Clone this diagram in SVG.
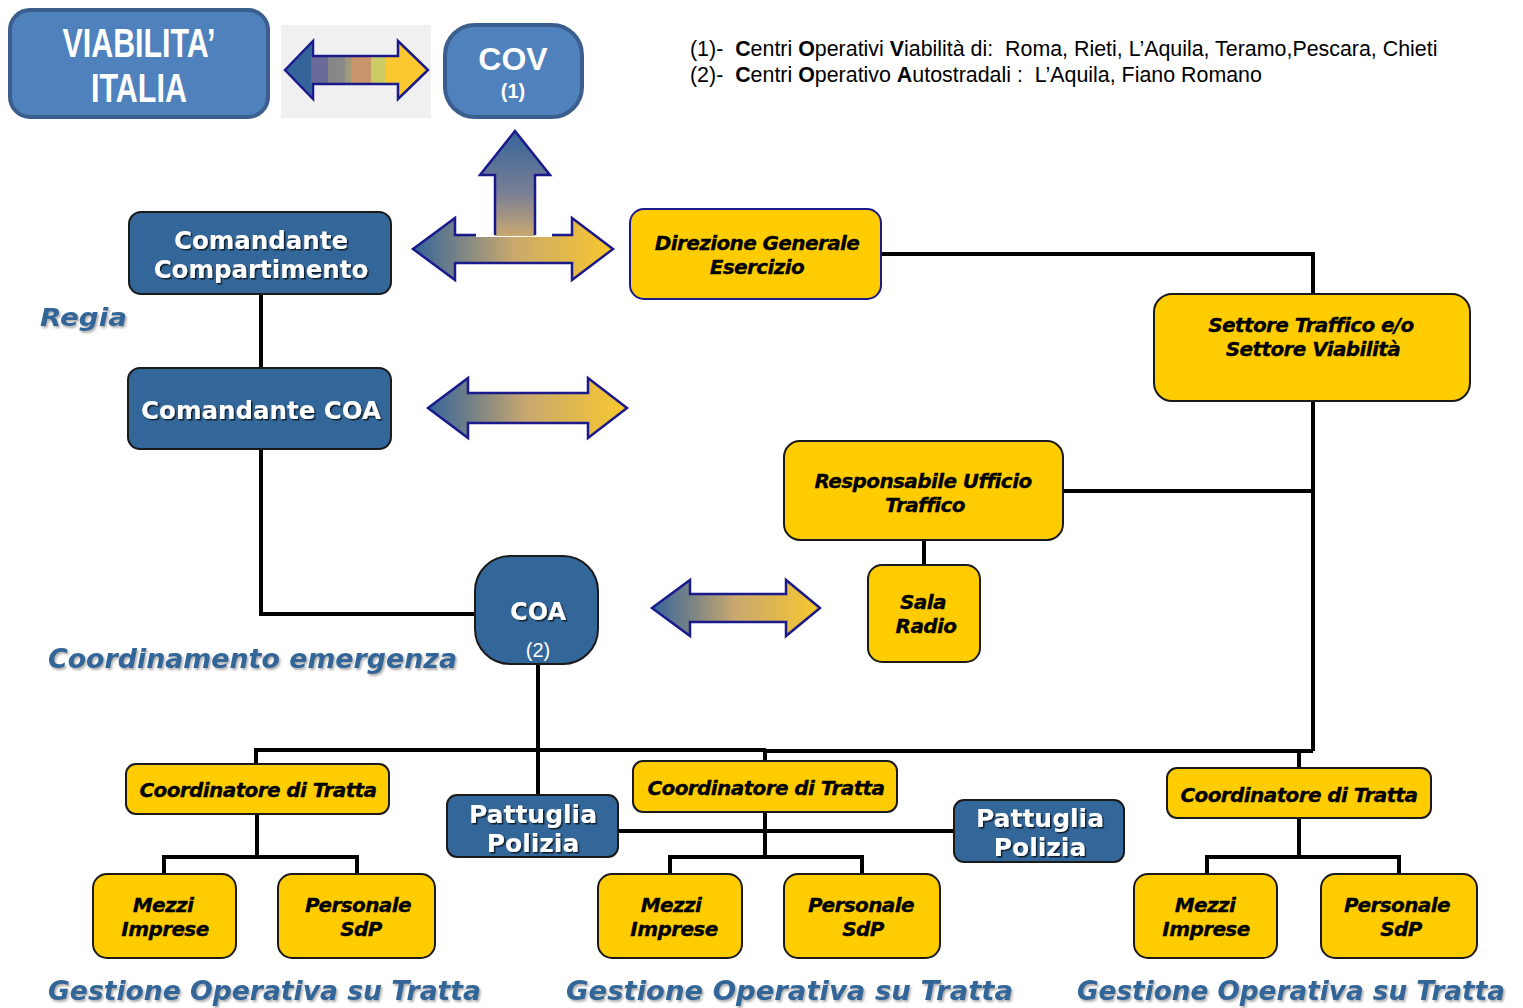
<svg xmlns="http://www.w3.org/2000/svg" width="1523" height="1008" viewBox="0 0 1523 1008">
<defs>
<style>
.vi{fill:#4f81bd;stroke:#3a5f8f;stroke-width:4}
.bl{fill:#336699;stroke:#1a1a1a;stroke-width:2}
.ye{fill:#ffcc00;stroke:#1a1a1a;stroke-width:2}
.ln{fill:none;stroke:#000;stroke-width:4;stroke-linejoin:miter}
.arr{stroke:#1a1a8c;stroke-width:2.5;stroke-linejoin:miter}
.tw{fill:#fff;font-family:"DejaVu Sans",Verdana,sans-serif;font-weight:bold;text-anchor:middle}
.ty{fill:#000;stroke:#000;stroke-width:0.3;font-family:"DejaVu Sans",Verdana,sans-serif;font-weight:bold;font-style:italic;font-size:20px;text-anchor:middle;letter-spacing:-0.6px}
.lab{fill:#336699;font-family:"DejaVu Sans",Verdana,sans-serif;font-weight:bold;font-style:italic}
.note{fill:#000;font-family:"Liberation Sans",Arial,sans-serif;font-size:21.4px;white-space:pre}
.big{fill:#fff;font-family:"Liberation Sans",Arial,sans-serif;font-weight:bold;text-anchor:middle}
</style>
<linearGradient id="gh" x1="0" y1="0" x2="1" y2="0">
<stop offset="0" stop-color="#34649a"/>
<stop offset="0.5" stop-color="#c9a86e"/>
<stop offset="1" stop-color="#f8c82c"/>
</linearGradient>
<linearGradient id="gv" x1="0" y1="0" x2="0" y2="1">
<stop offset="0" stop-color="#34649a"/>
<stop offset="0.6" stop-color="#7b7f94"/>
<stop offset="1" stop-color="#c9a870"/>
</linearGradient>
<linearGradient id="gs" x1="0" y1="0" x2="1" y2="0">
<stop offset="0" stop-color="#34649a"/>
<stop offset="0.18" stop-color="#34649a"/>
<stop offset="0.18" stop-color="#6a6a98"/>
<stop offset="0.3" stop-color="#6a6a98"/>
<stop offset="0.3" stop-color="#858585"/>
<stop offset="0.42" stop-color="#8a8a88"/>
<stop offset="0.42" stop-color="#a09a78"/>
<stop offset="0.46" stop-color="#a09a78"/>
<stop offset="0.46" stop-color="#c8966a"/>
<stop offset="0.6" stop-color="#c8966a"/>
<stop offset="0.6" stop-color="#cccc66"/>
<stop offset="0.7" stop-color="#cccc66"/>
<stop offset="0.7" stop-color="#fbc830"/>
<stop offset="1" stop-color="#fbc830"/>
</linearGradient>
<filter id="sh" x="-10%" y="-20%" width="120%" height="150%">
<feDropShadow dx="1.5" dy="1.5" stdDeviation="0.6" flood-color="#000" flood-opacity="0.7"/>
</filter>
<filter id="lsh" x="-2%" y="-20%" width="104%" height="140%">
<feDropShadow dx="1.5" dy="2" stdDeviation="1" flood-color="#777" flood-opacity="0.6"/>
</filter>
</defs>
<rect width="1523" height="1008" fill="#fff"/>

<g id="connectors">
<path class="ln" d="M261 294 V368"/>
<path class="ln" d="M261 449 V614 H475"/>
<path class="ln" d="M881 254 H1313 V294"/>
<path class="ln" d="M1313 401 V751"/>
<path class="ln" d="M1063 491 H1313"/>
<path class="ln" d="M924 540 V565"/>
<path class="ln" d="M538 664 V795"/>
<path class="ln" d="M256 764 V750 H766"/>
<path class="ln" d="M765 761 V751 H1313"/>
<path class="ln" d="M1299 751 V768"/>
<path class="ln" d="M257 814 V856"/>
<path class="ln" d="M164 874 V857 H357 V874"/>
<path class="ln" d="M765 812 V856"/>
<path class="ln" d="M618 831 H954"/>
<path class="ln" d="M670 874 V857 H862 V874"/>
<path class="ln" d="M1299 818 V856"/>
<path class="ln" d="M1207 874 V857 H1399 V874"/>
</g>

<g id="viabilita-italia">
<rect class="vi" x="10" y="10" width="258" height="107" rx="20"/>
<text class="big" font-size="41" x="139" y="57" textLength="153" lengthAdjust="spacingAndGlyphs">VIABILITA’</text>
<text class="big" font-size="41" x="139" y="102" textLength="96" lengthAdjust="spacingAndGlyphs">ITALIA</text>
</g>

<g id="arrow-viabilita-cov">
<rect x="281" y="25" width="150" height="93" fill="#f0f0f0"/>
<path class="arr" fill="url(#gs)" d="M285 70 L313 41 L313 56 L398 56 L398 41 L428 70 L398 99 L398 84 L313 84 L313 99 Z"/>
</g>

<g id="cov">
<rect class="vi" x="445" y="25" width="137" height="92" rx="30"/>
<text class="tw" style="font-family:'Liberation Sans',sans-serif" font-size="32" x="513" y="70">COV</text>
<text class="tw" style="font-family:'Liberation Sans',sans-serif" font-size="20" x="513" y="98">(1)</text>
</g>

<g id="notes">
<text class="note" x="690" y="56">(1)-  <tspan font-weight="bold">C</tspan>entri <tspan font-weight="bold">O</tspan>perativi <tspan font-weight="bold">V</tspan>iabilità di:  Roma, Rieti, L’Aquila, Teramo,Pescara, Chieti</text>
<text class="note" x="690" y="82">(2)-  <tspan font-weight="bold">C</tspan>entri <tspan font-weight="bold">O</tspan>perativo <tspan font-weight="bold">A</tspan>utostradali :  L’Aquila, Fiano Romano</text>
</g>

<g id="arrow-regia">
<path class="arr" fill="url(#gh)" d="M413 249 L455 218 L455 235 L572 235 L572 218 L613 249 L572 280 L572 263 L455 263 L455 280 Z"/>
<rect x="476" y="231" width="76" height="6" fill="#fff"/>
<path fill="url(#gv)" d="M495 236 V175 H480 L515 131 L550 175 H535 V236 Z"/>
<path class="arr" fill="none" d="M495 235 V175 H480 L515 131 L550 175 H535 V235"/>
</g>

<g id="comandante-compartimento">
<rect class="bl" x="129" y="212" width="262" height="82" rx="12"/>
<text class="tw" font-size="24.5" x="261" y="249" filter="url(#sh)">Comandante</text>
<text class="tw" font-size="24.5" x="261" y="278" filter="url(#sh)">Compartimento</text>
</g>

<g id="direzione-generale">
<rect class="ye" style="stroke:#1a1a8c" x="630" y="209" width="251" height="90" rx="14"/>
<text class="ty" x="757" y="250">Direzione Generale</text>
<text class="ty" x="757" y="274">Esercizio</text>
</g>

<g id="regia">
<text class="lab" font-size="25" x="40" y="326" textLength="87" lengthAdjust="spacingAndGlyphs" filter="url(#lsh)">Regia</text>
</g>

<g id="comandante-coa">
<rect class="bl" x="128" y="368" width="263" height="81" rx="12"/>
<text class="tw" font-size="24.5" x="261" y="419" filter="url(#sh)">Comandante COA</text>
</g>

<g id="arrow-coa">
<path class="arr" fill="url(#gh)" d="M428 408 L468 378 L468 393 L588 393 L588 378 L627 408 L588 438 L588 423 L468 423 L468 438 Z"/>
</g>

<g id="settore-traffico">
<rect class="ye" x="1154" y="294" width="316" height="107" rx="18"/>
<text class="ty" x="1311" y="332">Settore Traffico e/o</text>
<text class="ty" x="1313" y="356">Settore Viabilità</text>
</g>

<g id="responsabile-ufficio">
<rect class="ye" x="784" y="441" width="279" height="99" rx="16"/>
<text class="ty" x="923" y="488">Responsabile Ufficio</text>
<text class="ty" x="925" y="512">Traffico</text>
</g>

<g id="sala-radio">
<rect class="ye" x="868" y="565" width="112" height="97" rx="14"/>
<text class="ty" x="923" y="609">Sala</text>
<text class="ty" x="926" y="633">Radio</text>
</g>

<g id="coa">
<rect class="bl" x="475" y="556" width="123" height="108" rx="35"/>
<text class="tw" font-size="24" x="538" y="620" filter="url(#sh)">COA</text>
<text class="tw" style="font-family:'Liberation Sans',sans-serif;font-weight:normal" font-size="20" x="538" y="657">(2)</text>
</g>

<g id="arrow-sala">
<path class="arr" fill="url(#gh)" d="M652 608 L690 580 L690 594 L786 594 L786 580 L820 608 L786 636 L786 622 L690 622 L690 636 Z"/>
</g>

<g id="coordinamento-emergenza">
<text class="lab" font-size="27" x="48" y="668" textLength="409" lengthAdjust="spacingAndGlyphs" filter="url(#lsh)">Coordinamento emergenza</text>
</g>

<g id="coordinatore-1">
<rect class="ye" x="126" y="764" width="263" height="50" rx="10"/>
<text class="ty" x="258" y="797">Coordinatore di Tratta</text>
</g>
<g id="pattuglia-1">
<rect class="bl" x="447" y="795" width="171" height="62" rx="10"/>
<text class="tw" font-size="25" x="533" y="823" filter="url(#sh)">Pattuglia</text>
<text class="tw" font-size="25" x="533" y="852" filter="url(#sh)">Polizia</text>
</g>
<g id="coordinatore-2">
<rect class="ye" x="633" y="761" width="264" height="51" rx="10"/>
<text class="ty" x="766" y="795">Coordinatore di Tratta</text>
</g>
<g id="pattuglia-2">
<rect class="bl" x="954" y="800" width="170" height="62" rx="10"/>
<text class="tw" font-size="25" x="1040" y="827" filter="url(#sh)">Pattuglia</text>
<text class="tw" font-size="25" x="1040" y="856" filter="url(#sh)">Polizia</text>
</g>
<g id="coordinatore-3">
<rect class="ye" x="1167" y="768" width="264" height="50" rx="10"/>
<text class="ty" x="1299" y="802">Coordinatore di Tratta</text>
</g>

<g id="mezzi-1">
<rect class="ye" x="93" y="874" width="143" height="84" rx="14"/>
<text class="ty" x="163" y="912">Mezzi</text>
<text class="ty" x="165" y="936">Imprese</text>
</g>
<g id="personale-1">
<rect class="ye" x="278" y="874" width="157" height="84" rx="14"/>
<text class="ty" x="358" y="912">Personale</text>
<text class="ty" x="361" y="936">SdP</text>
</g>
<g id="mezzi-2">
<rect class="ye" x="598" y="874" width="144" height="84" rx="14"/>
<text class="ty" x="671" y="912">Mezzi</text>
<text class="ty" x="674" y="936">Imprese</text>
</g>
<g id="personale-2">
<rect class="ye" x="784" y="874" width="156" height="84" rx="14"/>
<text class="ty" x="861" y="912">Personale</text>
<text class="ty" x="863" y="936">SdP</text>
</g>
<g id="mezzi-3">
<rect class="ye" x="1134" y="874" width="143" height="84" rx="14"/>
<text class="ty" x="1205" y="912">Mezzi</text>
<text class="ty" x="1206" y="936">Imprese</text>
</g>
<g id="personale-3">
<rect class="ye" x="1321" y="874" width="156" height="84" rx="14"/>
<text class="ty" x="1397" y="912">Personale</text>
<text class="ty" x="1401" y="936">SdP</text>
</g>

<g id="gestione-labels">
<text class="lab" font-size="27" x="48" y="1000" textLength="433" lengthAdjust="spacingAndGlyphs" filter="url(#lsh)">Gestione Operativa su Tratta</text>
<text class="lab" font-size="27" x="566" y="1000" textLength="447" lengthAdjust="spacingAndGlyphs" filter="url(#lsh)">Gestione Operativa su Tratta</text>
<text class="lab" font-size="27" x="1077" y="1000" textLength="428" lengthAdjust="spacingAndGlyphs" filter="url(#lsh)">Gestione Operativa su Tratta</text>
</g>
</svg>
